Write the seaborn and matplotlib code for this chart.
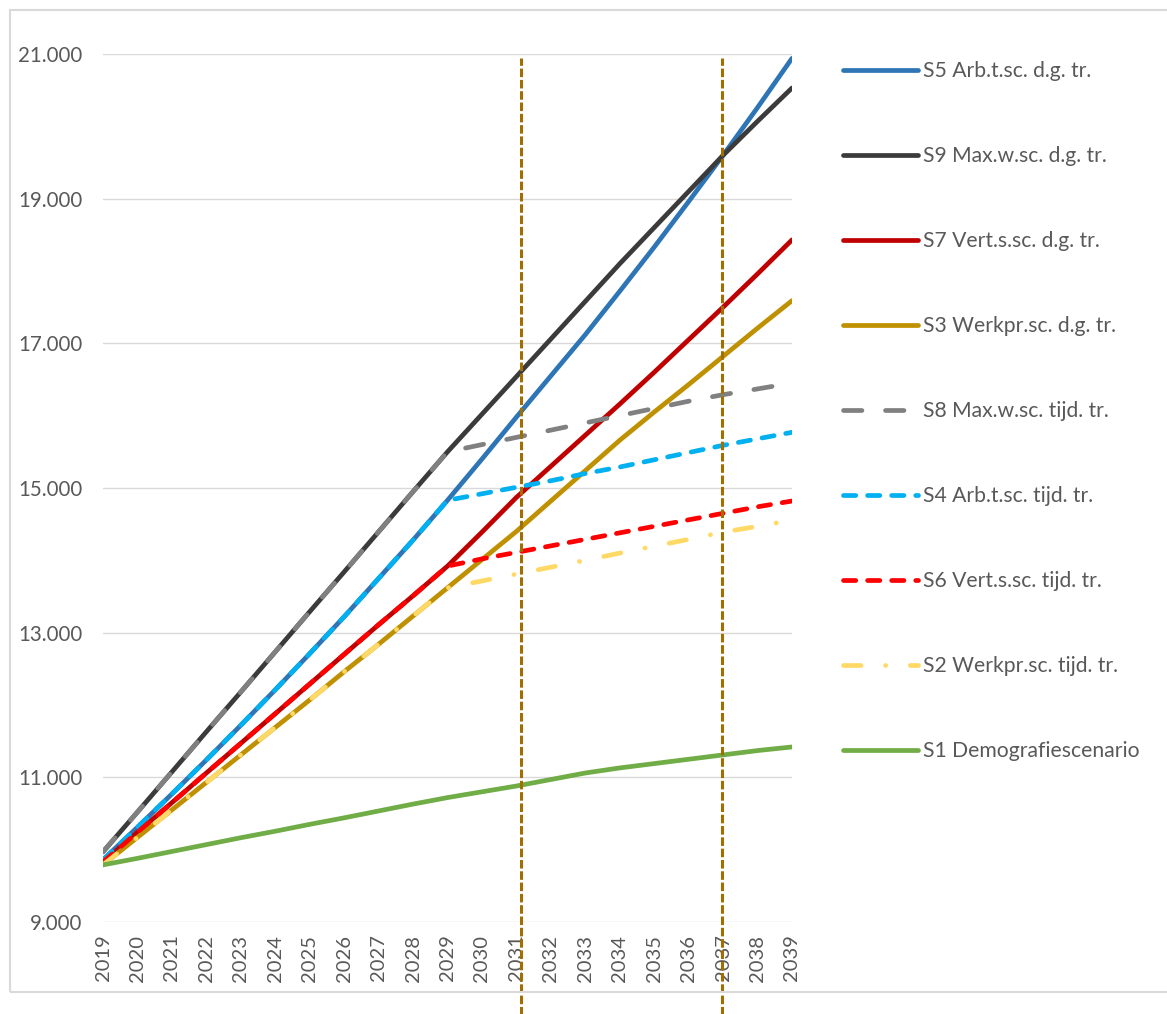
import matplotlib
matplotlib.use("Agg")
import matplotlib.pyplot as plt
import matplotlib.ticker as mticker
from matplotlib.patches import Rectangle
import seaborn as sns
import pandas as pd

# Years on the category axis
years = list(range(2019, 2040))

# Scenario series (number of workers / persons)
s5_arb_dg = [9860, 10310, 10770, 11240, 11720, 12210, 12710, 13220, 13750, 14280, 14830,
             15400, 15980, 16550, 17120, 17720, 18330, 18960, 19600, 20260, 20940]
s9_max_dg = [9970, 10520, 11075, 11630, 12180, 12735, 13290, 13840, 14395, 14950, 15500,
             16020, 16540, 17060, 17580, 18100, 18600, 19100, 19600, 20070, 20530]
s7_vert_dg = [9830, 10240, 10650, 11060, 11470, 11880, 12290, 12700, 13110, 13510, 13920,
              14390, 14870, 15300, 15730, 16160, 16600, 17050, 17500, 17960, 18430]
s3_werk_dg = [9790, 10170, 10550, 10930, 11310, 11690, 12070, 12460, 12840, 13230, 13620,
              14010, 14400, 14820, 15240, 15660, 16050, 16430, 16820, 17210, 17590]
s8_max_tijd = [9970, 10520, 11075, 11630, 12180, 12735, 13290, 13840, 14395, 14950, 15500,
               15600, 15700, 15800, 15900, 16000, 16100, 16200, 16290, 16370, 16450]
s4_arb_tijd = [9860, 10310, 10770, 11240, 11720, 12210, 12710, 13220, 13750, 14280, 14830,
               14920, 15010, 15100, 15200, 15290, 15390, 15490, 15590, 15680, 15770]
s6_vert_tijd = [9830, 10240, 10650, 11060, 11470, 11880, 12290, 12700, 13110, 13510, 13920,
                14020, 14110, 14200, 14290, 14380, 14470, 14560, 14650, 14740, 14820]
s2_werk_tijd = [9790, 10170, 10550, 10930, 11310, 11690, 12070, 12460, 12840, 13230, 13620,
                13715, 13810, 13905, 14000, 14100, 14195, 14290, 14390, 14470, 14555]
s1_demo = [9790, 9880, 9975, 10070, 10165, 10255, 10350, 10440, 10535, 10630, 10720,
           10800, 10880, 10970, 11060, 11130, 11190, 11250, 11310, 11370, 11420]

labels = ["S5 Arb.t.sc. d.g. tr.", "S9 Max.w.sc. d.g. tr.", "S7 Vert.s.sc. d.g. tr.",
          "S3 Werkpr.sc. d.g. tr.", "S8 Max.w.sc. tijd. tr.", "S4 Arb.t.sc. tijd. tr.",
          "S6 Vert.s.sc. tijd. tr.", "S2 Werkpr.sc. tijd. tr.", "S1 Demografiescenario"]
series = [s5_arb_dg, s9_max_dg, s7_vert_dg, s3_werk_dg, s8_max_tijd,
          s4_arb_tijd, s6_vert_tijd, s2_werk_tijd, s1_demo]
colors = ["#2E75B6", "#3B3B3B", "#C00000", "#BF9000", "#808080",
          "#00B0F0", "#FF0000", "#FFD966", "#70AD47"]
# dash patterns in units of line width (None = solid)
dash_styles = [None, None, None, None, (3.9, 5.0), (2.6, 2.5), (2.6, 2.5),
               (3.7, 5.2, 0.05, 5.2), None]

# Reference years marked with vertical lines
marker_years = [2031.13, 2036.97]

sns.set_theme(style="white")
plt.rcParams["font.family"] = ["Lato", "DejaVu Sans"]
text_color = "#595959"

fig = plt.figure(figsize=(11.67, 10.14), dpi=100)
ax = fig.add_axes([103 / 1167, 92 / 1014, 689 / 1167, 868 / 1014])

lw = 3.4
for lab, vals, col, dsh in zip(labels, series, colors, dash_styles):
    df = pd.DataFrame({"jaar": years, "waarde": vals})
    sns.lineplot(data=df, x="jaar", y="waarde", ax=ax, color=col, linewidth=lw,
                 label=lab, legend=False)
    ln = ax.lines[-1]
    ln.set_solid_capstyle("round")
    ln.set_solid_joinstyle("round")
    if dsh is not None:
        ln.set_dashes(dsh)
        ln.set_dash_capstyle("round")

for yr in marker_years:
    ax.axvline(yr, ymin=-0.11, ymax=0.995, clip_on=False, color="#A36E00",
               linewidth=2.2, dashes=(2.8, 0.9), solid_capstyle="butt", zorder=5)

ax.set_xlim(2019, 2039)
ax.set_ylim(9000, 21000)
ax.set_yticks(range(9000, 21001, 2000))
ax.set_xticks(years)
ax.yaxis.set_major_formatter(mticker.FuncFormatter(lambda v, p: f"{v:,.0f}".replace(",", ".")))
ax.set_xticklabels([str(y) for y in years], rotation=90)
ax.tick_params(axis="y", length=0, pad=15, labelsize=14.8, labelcolor=text_color)
ax.tick_params(axis="x", length=0, pad=9, labelsize=14.5, labelcolor=text_color)
ax.grid(axis="y", color="#D9D9D9", linewidth=1.0)
ax.grid(axis="x", visible=False)
for sp in ax.spines.values():
    sp.set_visible(False)
ax.set_xlabel("")
ax.set_ylabel("")

handles = ax.lines[:len(labels)]
leg = fig.legend(handles, labels, loc="upper left",
                 bbox_to_anchor=(843 / 1167, (1014 - 61) / 1014),
                 frameon=False, fontsize=15.2, labelcolor=text_color,
                 handlelength=3.55, handletextpad=0.25, labelspacing=3.08,
                 borderpad=0, borderaxespad=0)

# outer chart border
fig.patches.append(Rectangle((10 / 1167, 22 / 1014), 1.2, 982 / 1014,
                             transform=fig.transFigure, fill=False,
                             edgecolor="#D9D9D9", linewidth=1.5))

fig.savefig("out.png", dpi=100)
